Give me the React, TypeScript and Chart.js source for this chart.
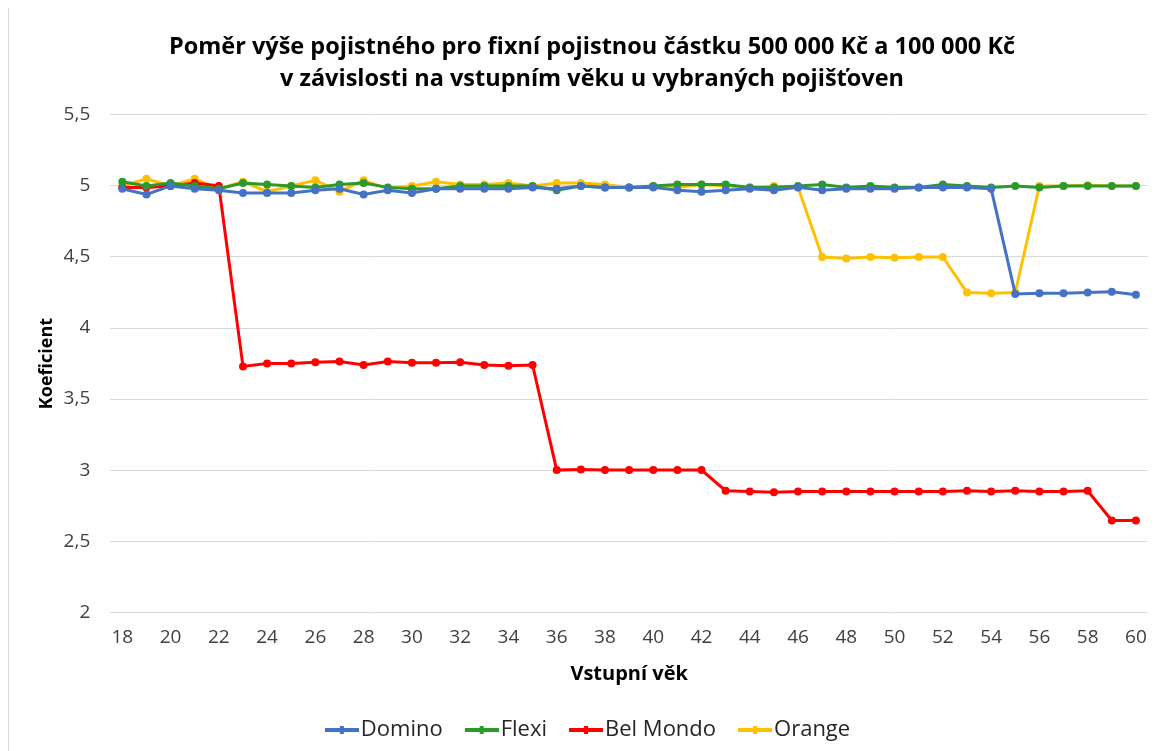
import React, { useEffect, useRef } from "react";
import { Chart, registerables } from "chart.js";

Chart.register(...registerables);

const ages: string[] = [
  "18","19","20","21","22","23","24","25","26","27","28","29","30","31","32","33","34","35","36","37","38","39",
  "40","41","42","43","44","45","46","47","48","49","50","51","52","53","54","55","56","57","58","59","60",
];

const domino: number[] = [
  4.98, 4.94, 5.0, 4.98, 4.97, 4.95, 4.95, 4.95, 4.97, 4.98, 4.94, 4.97, 4.95, 4.98, 4.98, 4.98, 4.98, 4.99,
  4.98, 5.0, 4.99, 4.99, 4.99, 4.97, 4.96, 4.97, 4.98, 4.97, 4.99, 4.97, 4.98, 4.98, 4.98, 4.99, 4.99, 4.99,
  4.98, 4.24, 4.245, 4.245, 4.25, 4.255, 4.235,
];

const flexi: number[] = [
  5.03, 5.0, 5.02, 5.0, 4.98, 5.02, 5.01, 5.0, 4.99, 5.01, 5.02, 4.99, 4.98, 4.98, 5.0, 5.0, 5.0, 5.0,
  4.97, 5.0, 4.99, 4.99, 5.0, 5.01, 5.01, 5.01, 4.99, 4.99, 5.0, 5.01, 4.99, 5.0, 4.99, 4.99, 5.01, 5.0,
  4.99, 5.0, 4.99, 5.0, 5.0, 5.0, 5.0,
];

const belMondo: number[] = [
  4.99, 4.99, 5.0, 5.02, 5.0, 3.73, 3.75, 3.75, 3.76, 3.765, 3.74, 3.765, 3.755, 3.755, 3.76, 3.74, 3.735, 3.74,
  3.0, 3.005, 3.0, 3.0, 3.0, 3.0, 3.0, 2.855, 2.85, 2.845, 2.85, 2.85, 2.85, 2.85, 2.85, 2.85, 2.85, 2.855,
  2.85, 2.855, 2.85, 2.85, 2.855, 2.645, 2.645,
];

const orange: number[] = [
  5.0, 5.05, 5.0, 5.05, 4.98, 5.03, 4.96, 5.0, 5.04, 4.96, 5.04, 4.98, 5.0, 5.03, 5.01, 5.01, 5.02, 5.0,
  5.02, 5.02, 5.01, 4.99, 5.0, 4.99, 5.01, 5.0, 4.99, 5.0, 4.99, 4.5, 4.49, 4.5, 4.495, 4.5, 4.5, 4.25,
  4.245, 4.25, 5.0, 5.0, 5.005, 5.0, 5.0,
];

const seriesNames: string[] = ["Domino", "Flexi", "Bel Mondo", "Orange"];
const seriesColors: string[] = ["#4472C4", "#2B9A2B", "#FF0000", "#FFC000"];

const titleLines: string[] = [
  "Poměr výše pojistného pro fixní pojistnou částku 500 000 Kč a 100 000 Kč",
  "v závislosti na vstupním věku u vybraných pojišťoven",
];

const FONT = "'Open Sans', Lato, sans-serif";

function makeLegendMarker(color: string): HTMLCanvasElement {
  const c = document.createElement("canvas");
  c.width = 34;
  c.height = 10;
  const ctx = c.getContext("2d")!;
  ctx.strokeStyle = color;
  ctx.lineWidth = 4;
  ctx.beginPath();
  ctx.moveTo(0, 5);
  ctx.lineTo(34, 5);
  ctx.stroke();
  ctx.fillStyle = color;
  ctx.fillRect(15, 1, 4, 8);
  return c;
}

export default function App() {
  const ref = useRef<HTMLCanvasElement | null>(null);

  useEffect(() => {
    if (!ref.current) return;
    const values = [domino, flexi, belMondo, orange];
    const markers = seriesColors.map((c) => makeLegendMarker(c));
    const chart = new Chart(ref.current, {
      type: "line",
      data: {
        labels: ages,
        datasets: seriesNames.map((name, i) => ({
          label: name,
          data: values[i],
          borderColor: seriesColors[i],
          backgroundColor: seriesColors[i],
          borderWidth: 3,
          pointRadius: 4,
          pointHoverRadius: 4,
          pointBorderWidth: 0,
          pointStyle: "circle",
          tension: 0,
        })),
      },
      options: {
        animation: false,
        responsive: true,
        maintainAspectRatio: false,
        layout: { padding: { left: 27, right: 7, top: 23, bottom: 0 } },
        plugins: {
          title: {
            display: true,
            text: titleLines,
            color: "#000000",
            font: { family: FONT, size: 23.5, weight: "bold", lineHeight: 1.36 },
            padding: { top: 0, bottom: 20 },
          },
          legend: {
            position: "bottom",
            labels: {
              usePointStyle: true,
              pointStyleWidth: 16,
              color: "#262626",
              font: { family: FONT, size: 22 },
              padding: 31,
              boxHeight: 10,
              generateLabels: (ch: any) =>
                ch.data.datasets.map((ds: any, i: number) => ({
                  text: ds.label,
                  fillStyle: seriesColors[i],
                  strokeStyle: seriesColors[i],
                  lineWidth: 0,
                  pointStyle: markers[i],
                  hidden: false,
                  datasetIndex: i,
                  fontColor: "#262626",
                })),
            },
          },
          tooltip: { enabled: false },
        },
        scales: {
          x: {
            offset: true,
            grid: { display: false },
            border: { display: false },
            ticks: {
              autoSkip: false,
              maxRotation: 0,
              color: "#404040",
              font: { family: FONT, size: 19 },
              padding: 6,
              callback: (_v: any, idx: number) => (idx % 2 === 0 ? ages[idx] : ""),
            },
            title: {
              display: true,
              text: "Vstupní věk",
              color: "#000000",
              font: { family: FONT, size: 20, weight: "bold" },
              padding: { top: 7, bottom: 2 },
            },
          },
          y: {
            min: 2,
            max: 5.5,
            grid: { color: "#D9D9D9", lineWidth: 1, drawTicks: false },
            border: { display: false },
            ticks: {
              stepSize: 0.5,
              color: "#404040",
              font: { family: FONT, size: 19 },
              padding: 20,
              callback: (v: any) => String(v).replace(".", ","),
            },
            title: {
              display: true,
              text: "Koeficient",
              color: "#000000",
              font: { family: FONT, size: 18, weight: "bold" },
              padding: { top: 0, bottom: -14 },
            },
          },
        },
      },
    });
    return () => chart.destroy();
  }, []);

  return (
    <div
      style={{
        position: "absolute",
        left: 8,
        top: 8,
        width: 1147,
        height: 743,
        borderLeft: "1px solid #D9D9D9",
        boxSizing: "border-box",
        background: "#ffffff",
      }}
    >
      <canvas ref={ref} />
    </div>
  );
}
